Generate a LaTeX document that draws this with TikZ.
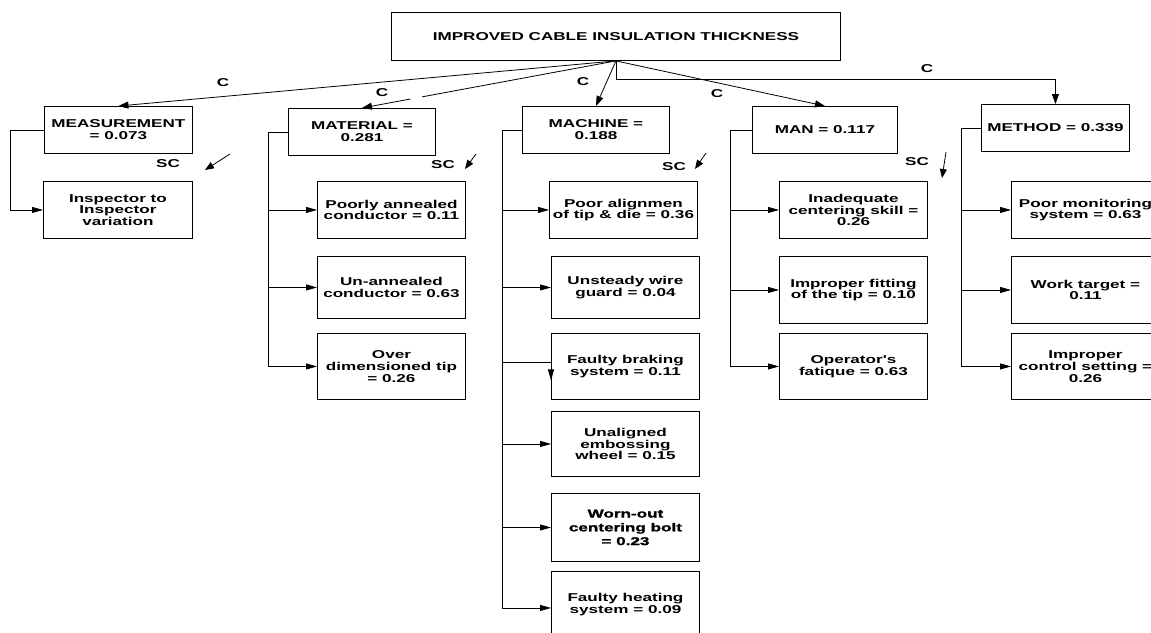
\documentclass[tikz,border=0pt]{standalone}
\usepackage{fontspec}
\newfontfamily\dfont{Liberation Sans}[FakeStretch=1.5]
\newfontfamily\hfont{Liberation Sans}[FakeStretch=1.5, BoldFeatures={FakeBold=1.6}]
\usetikzlibrary{arrows.meta,calc}
\begin{document}
\begin{tikzpicture}[x=1pt,y=-1pt,
  txt/.style={font=\dfont\bfseries\fontsize{11.4}{11.8}\selectfont},
  box/.style={txt, draw, line width=0.9pt, anchor=north west, inner sep=0pt, align=center},
  lbl/.style={txt, inner sep=0pt},
  ln/.style={line width=0.8pt},
  arr/.style={line width=0.8pt, -{Triangle[length=11pt,width=6pt]}},
  carr/.style={line width=0.8pt, -{Triangle[length=10pt,width=7pt]}},
  sarr/.style={line width=0.8pt, -{Triangle[length=9pt,width=7pt]}},
]
\fill[white] (0,0) rectangle (1151,632);
\useasboundingbox (0,0) rectangle (1151,632);
\clip (0,0) rectangle (1151,632);

% title
\node[box, minimum width=449pt, minimum height=48pt] (title) at (391,12) {IMPROVED CABLE INSULATION THICKNESS};

% categories
\node[box, minimum width=148pt, minimum height=47pt] (meas) at (44,106) {MEASUREMENT\\= 0.073};
\node[box, minimum width=147pt, minimum height=47pt] (mat) at (288,108) {MATERIAL =\\0.281};
\node[box, minimum width=147pt, minimum height=47pt] (mach) at (522,106) {MACHINE =\\0.188};
\node[box, minimum width=145pt, minimum height=47pt] (man) at (752,106) {MAN = 0.117};
\node[box, minimum width=148pt, minimum height=47pt] (meth) at (981,104) {METHOD = 0.339};

% sub-causes
\node[box, minimum width=149pt, minimum height=57pt] (insp) at (43,181) {Inspector to\\Inspector\\variation};

\node[box, minimum width=148pt, minimum height=57pt] (pa) at (317,181) {Poorly annealed\\conductor = 0.11};
\node[box, minimum width=148pt, minimum height=62pt] (ua) at (317,256) {Un-annealed\\conductor = 0.63};
\node[box, minimum width=148pt, minimum height=66pt] (od) at (317,333) {Over\\dimensioned tip\\= 0.26};

\node[box, minimum width=148pt, minimum height=57pt] (pal) at (549,181) {Poor alignmen\\of tip \& die = 0.36};
\node[box, minimum width=148pt, minimum height=62pt] (uw) at (551,256) {Unsteady wire\\guard = 0.04};
\node[box, minimum width=148pt, minimum height=66pt] (fb) at (551,333) {Faulty braking\\system = 0.11};
\node[box, minimum width=148pt, minimum height=65pt] (uew) at (551,411) {Unaligned\\embossing\\wheel = 0.15};
\node[box, minimum width=148pt, minimum height=68pt, font=\hfont\bfseries\fontsize{11.4}{13.8}\selectfont] (wc) at (551,493) {Worn-out\\centering bolt\\= 0.23};
\node[box, minimum width=148pt, minimum height=66pt] (fh) at (551,571) {Faulty heating\\system = 0.09};

\node[box, minimum width=148pt, minimum height=57pt] (ic) at (779,181) {Inadequate\\centering skill =\\0.26};
\node[box, minimum width=148pt, minimum height=67pt] (ift) at (779,256) {Improper fitting\\of the tip = 0.10};
\node[box, minimum width=148pt, minimum height=66pt] (of) at (779,333) {Operator's\\fatique = 0.63};

\node[box, minimum width=148pt, minimum height=57pt] (pm) at (1011,181) {Poor monitoring\\system = 0.63};
\node[box, minimum width=148pt, minimum height=67pt] (wt) at (1011,256) {Work target =\\0.11};
\node[box, minimum width=148pt, minimum height=66pt] (ics) at (1011,333) {Improper\\control setting =\\0.26};

% title connectors
\draw[carr] (title.south) -- (meas.north);
\draw[carr, dash pattern=on 197pt off 12pt on 300pt] (title.south) -- (mat.north);
\draw[carr] (title.south) -- (mach.north);
\draw[carr] (title.south) -- (man.north);
\draw[carr] (title.south) -- ++(0,18) -| (meth.north);

\node[lbl] (c1) at (223,83) {C};
\node[lbl] (c2) at (382,93) {C};
\node[lbl] (c3) at (583,82) {C};
\node[lbl] (c4) at (717,94) {C};
\node[lbl] (c5) at (927,69) {C};

% SC labels and arrows
\node[lbl] (sc1) at (168,164) {SC};
\node[lbl] (sc2) at (443,165) {SC};
\node[lbl] (sc3) at (674,167) {SC};
\node[lbl] (sc4) at (917,162) {SC};
\coordinate (s1a) at (230,154); \coordinate (s1b) at (205,170);
\coordinate (s2a) at (476,154); \coordinate (s2b) at (465,169);
\coordinate (s3a) at (706,153); \coordinate (s3b) at (695,169);
\coordinate (s4a) at (946,152); \coordinate (s4b) at (942,178);
\draw[sarr] (s1a) -- (s1b);
\draw[sarr] (s2a) -- (s2b);
\draw[sarr] (s3a) -- (s3b);
\draw[sarr] (s4a) -- (s4b);

% buses
\coordinate (busA) at (10,0);
\coordinate (busB) at (268,0);
\coordinate (busC) at (502,0);
\coordinate (busD) at (730,0);
\coordinate (busE) at (961,0);

\draw[arr] (meas.west) -- (meas.west -| busA) |- (insp.west);

\foreach \c in {pa,ua,od}
  \draw[arr] (mat.west) -- (mat.west -| busB) |- (\c.west);

\foreach \c in {pal,uw,uew,wc}
  \draw[arr] (mach.west) -- (mach.west -| busC) |- (\c.west);
\draw[arr] (mach.west) -- (mach.west -| busC) |- ($(fh.west)+(0,3.5)$);
\draw[arr] (mach.west) -- (mach.west -| busC) |- ($(fb.west)+(0,-4)$) -- ($(fb.west)+(0,14)$);

\foreach \c in {ic,ift,of}
  \draw[arr] (man.west) -- (man.west -| busD) |- (\c.west);

\foreach \c in {pm,wt,ics}
  \draw[arr] (meth.west) -- (meth.west -| busE) |- (\c.west);
\end{tikzpicture}
\end{document}
